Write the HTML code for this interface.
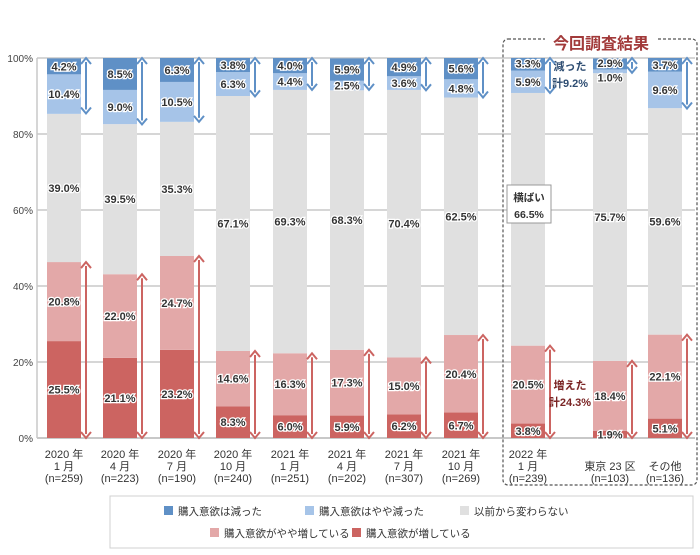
<!DOCTYPE html>
<html><head><meta charset="utf-8">
<style>
body{margin:0;background:#fff;}
svg text{font-family:"Liberation Sans","Noto Sans CJK JP",sans-serif;}
.v{font-size:11px;font-weight:bold;fill:#333;stroke:#fff;stroke-width:2.5px;paint-order:stroke;text-anchor:middle;}
.ax{font-size:10px;fill:#444;}
.xl{font-size:11px;fill:#333;text-anchor:middle;}
.lg{font-size:10.5px;fill:#333;}
</style></head>
<body>
<svg id="chart" width="700" height="550" xmlns="http://www.w3.org/2000/svg"></svg>
<script>
const categories=[["2020 年","1 月","(n=259)"],["2020 年","4 月","(n=223)"],["2020 年","7 月","(n=190)"],["2020 年","10 月","(n=240)"],["2021 年","1 月","(n=251)"],["2021 年","4 月","(n=202)"],["2021 年","7 月","(n=307)"],["2021 年","10 月","(n=269)"],["2022 年","1 月","(n=239)"],["","東京 23 区","(n=103)"],["","その他","(n=136)"]];
const increased=[25.5,21.1,23.2,8.3,6.0,5.9,6.2,6.7,3.8,1.9,5.1];
const slightlyIncreased=[20.8,22.0,24.7,14.6,16.3,17.3,15.0,20.4,20.5,18.4,22.1];
const unchanged=[39.0,39.5,35.3,67.1,69.3,68.3,70.4,62.5,66.5,75.7,59.6];
const slightlyDecreased=[10.4,9.0,10.5,6.3,4.4,2.5,3.6,4.8,5.9,1.0,9.6];
const decreased=[4.2,8.5,6.3,3.8,4.0,5.9,4.9,5.6,3.3,2.9,3.7];
const yTicks=[0,20,40,60,80,100];
const seriesNames=["購入意欲は減った","購入意欲はやや減った","以前から変わらない","購入意欲がやや増している","購入意欲が増している"];

const NS="http://www.w3.org/2000/svg";
const svg=document.getElementById('chart');
function mk(t,a,p){const e=document.createElementNS(NS,t);for(const k in a)e.setAttribute(k,a[k]);(p||svg).appendChild(e);return e;}
const y0=438,y1=58,x0=37,x1=695;
const y=v=>y0-(v/100)*(y0-y1);
const centers=[64,120,177,233,290,347,404,461,528,610,665];
const x=i=>centers[i];
const bw=34;
const C={dec:"#5f90c6",sdec:"#a6c4e8",un:"#e0e0e0",sinc:"#e3a8a8",inc:"#cc6461"};

yTicks.forEach(t=>{
  const l=mk('line',{x1:x0,x2:x1,y1:y(t),y2:y(t),stroke:"#c8c8c8","stroke-width":t===0?2:1.5});
  
  
  const tx=mk('text',{x:x0-4,y:y(t)+4,class:'ax','text-anchor':'end'});tx.textContent=t+'%';
  
  
});
mk('line',{x1:x0,x2:x0,y1:y1,y2:y0,stroke:"#c8c8c8","stroke-width":1.5});

const box=mk('rect',{x:503,y:39,width:194,height:446,rx:5,fill:"none",stroke:"#555","stroke-dasharray":"3,2","stroke-width":1.2});


mk('rect',{x:545,y:32,width:112,height:20,fill:"#fff"});
const ttl=mk('text',{x:601,y:49,"text-anchor":"middle","font-size":"16px","font-weight":"bold",fill:"#a23a3a"});
ttl.textContent="今回調査結果";



function arrow(xx,ya,yb,col,name){
  const g=mk('g',{});
  
  
  mk('line',{x1:xx,x2:xx,y1:ya+4,y2:yb-4,stroke:col,"stroke-width":2},g);
  mk('path',{d:`M${xx-5},${ya+6} L${xx},${ya} L${xx+5},${ya+6}`,fill:"none",stroke:col,"stroke-width":2},g);
  mk('path',{d:`M${xx-5},${yb-6} L${xx},${yb} L${xx+5},${yb-6}`,fill:"none",stroke:col,"stroke-width":2},g);
}

categories.forEach((c,i)=>{
  const segs=[[increased[i],C.inc,'increased'],[slightlyIncreased[i],C.sinc,'slightly-increased'],[unchanged[i],C.un,'unchanged'],[slightlyDecreased[i],C.sdec,'slightly-decreased'],[decreased[i],C.dec,'decreased']];
  let acc=0;const mids=[];
  segs.forEach(s=>{
    const top=Math.min(acc+s[0],100);
    const r=mk('rect',{x:x(i)-bw/2,y:y(top),width:bw,height:y(acc)-y(top),fill:s[1]});
    
    
    mids.push([(acc+top)/2,s[0]]);
    acc+=s[0];
  });
  mids.forEach((m,k)=>{
    let yy=y(m[0])+4;
    if(i===8&&k===2){return;}
    if(k===3&&slightlyDecreased[i]<2)yy+=6;
    if(k===4&&decreased[i]<3.5)yy-=1;
    const t=mk('text',{x:x(i),y:yy,class:'v'});
    t.textContent=m[1].toFixed(1)+'%';
    
    
  });
  const incTop=increased[i]+slightlyIncreased[i];
  const decBot=100-decreased[i]-slightlyDecreased[i];
  arrow(x(i)+bw/2+5,y(incTop),y(0),"#cc6461",'increase-arrow-'+i);
  arrow(x(i)+bw/2+5,y(100),y(decBot),"#5f90c6",'decrease-arrow-'+i);
  c.forEach((ln,k)=>{
    if(!ln)return;
    const t=mk('text',{x:x(i),y:458+k*12,class:'xl'});t.textContent=ln;
    
    
  });
});

const kb=mk('rect',{x:507,y:185,width:44,height:38,fill:"#fff",stroke:"#999"});


[['横ばい',201],['66.5%',218]].forEach(a=>{const t=mk('text',{x:529,y:a[1],"text-anchor":"middle","font-size":"10.5px","font-weight":"bold",fill:"#333"});t.textContent=a[0];});
[['減った',70,"#2e4d72"],['計9.2%',87,"#2e4d72"],['増えた',389,"#7a2424"],['計24.3%',406,"#7a2424"]].forEach(a=>{const t=mk('text',{x:570,y:a[1],"text-anchor":"middle","font-size":"11px","font-weight":"bold",fill:a[2]});t.textContent=a[0];});

const lgb=mk('rect',{x:110,y:496,width:583,height:52,fill:"#fff",stroke:"#d0d0d0"});


const lpos=[[164,511],[305,511],[460,511],[210,533],[352,533]];
const lcol=[C.dec,C.sdec,C.un,C.sinc,C.inc];
seriesNames.forEach((n,k)=>{
  const g=mk('g',{});
  
  
  mk('rect',{x:lpos[k][0],y:lpos[k][1]-5,width:9,height:9,fill:lcol[k]},g);
  const t=mk('text',{x:lpos[k][0]+14,y:lpos[k][1]+4,class:'lg'},g);t.textContent=n;
});
</script>
</body></html>
